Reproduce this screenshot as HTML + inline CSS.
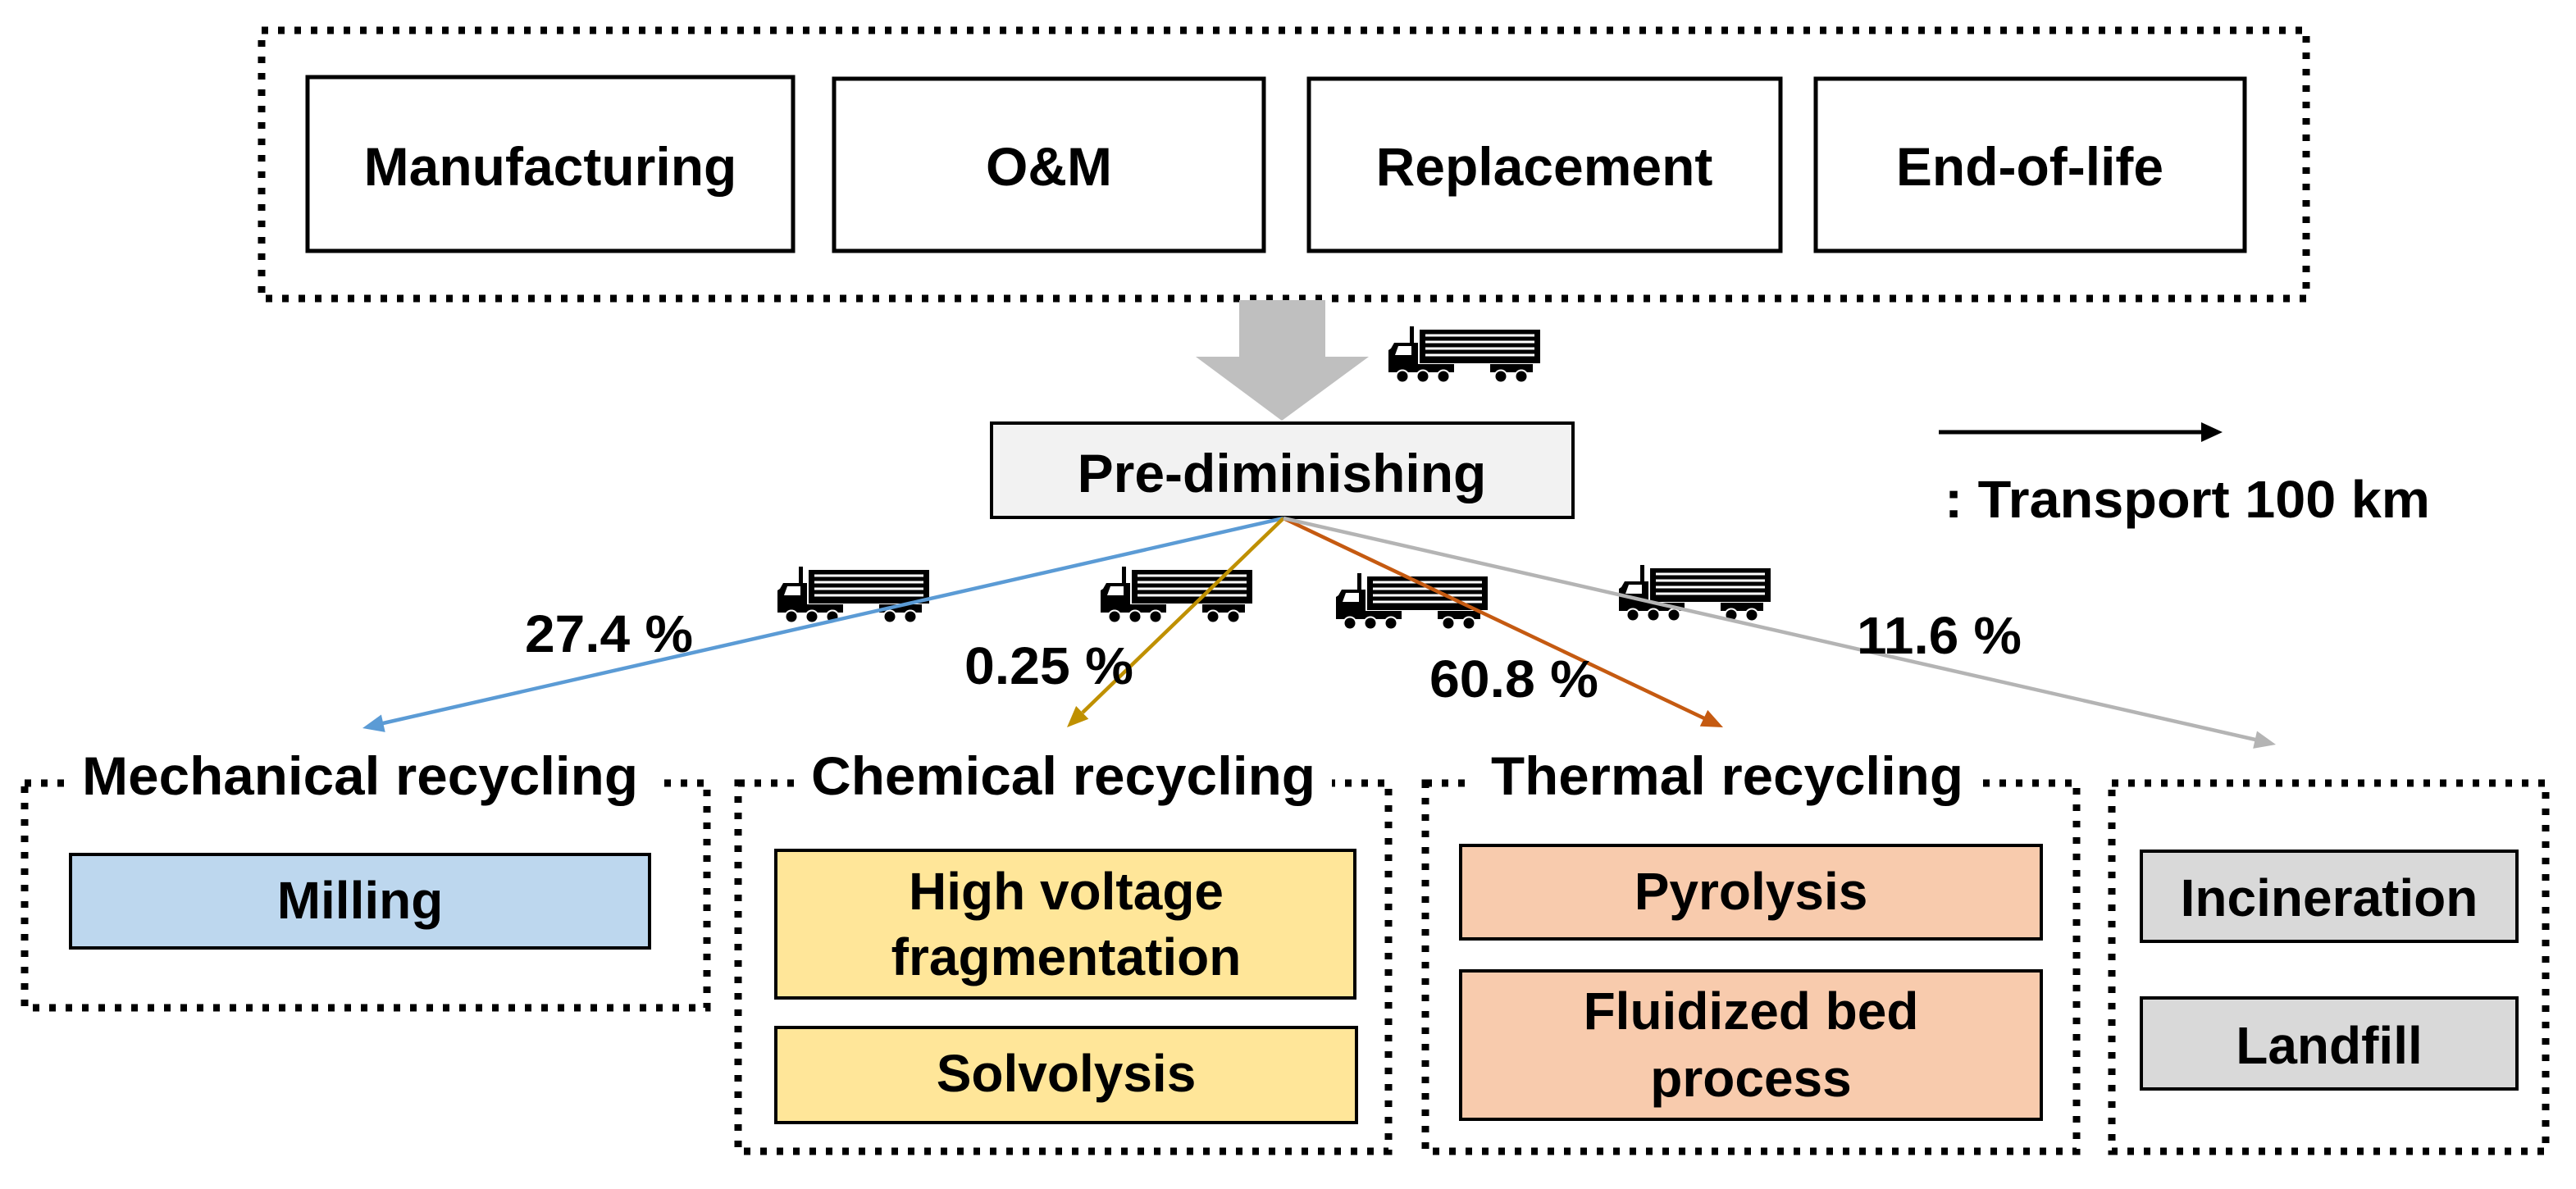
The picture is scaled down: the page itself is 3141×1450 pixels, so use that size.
<!DOCTYPE html>
<html><head><meta charset="utf-8"><style>html,body{margin:0;padding:0;background:#fff}svg{display:block}</style></head>
<body>
<svg width="3141" height="1450" viewBox="0 0 3141 1450" xmlns="http://www.w3.org/2000/svg" font-family="'Liberation Sans', Arial, sans-serif" font-weight="bold">
<defs>
<g id="truck">
  <rect x="38" y="4" width="147" height="41" fill="#000"/>
  <g stroke="#fff" stroke-width="3">
    <line x1="45" y1="11" x2="178" y2="11"/><line x1="45" y1="19" x2="178" y2="19"/>
    <line x1="45" y1="27" x2="178" y2="27"/><line x1="45" y1="35" x2="178" y2="35"/>
  </g>
  <rect x="26" y="0" width="5" height="22" fill="#000"/>
  <polygon points="0,49 0,29 3,27 7,20 36,20 36,49" fill="#000"/>
  <polygon points="12,24 28,24 28,35 8,35" fill="#fff"/>
  <rect x="0" y="46" width="80" height="10" fill="#000"/>
  <rect x="124" y="46" width="52" height="10" fill="#000"/>
  <g fill="#000" stroke="#fff" stroke-width="2">
    <circle cx="17" cy="61" r="7.5"/><circle cx="42" cy="61" r="7.5"/><circle cx="67" cy="61" r="7.5"/>
    <circle cx="137" cy="61" r="7.5"/><circle cx="162" cy="61" r="7.5"/>
  </g>
</g>
</defs>

<!-- top dotted group -->
<rect x="319" y="37" width="2493" height="327" fill="none" stroke="#000" stroke-width="9" stroke-dasharray="8 12"/>
<g fill="#fff" stroke="#000" stroke-width="5">
  <rect x="375" y="94" width="592" height="212"/>
  <rect x="1017" y="96" width="524" height="210"/>
  <rect x="1596" y="96" width="575" height="210"/>
  <rect x="2214" y="96" width="523" height="210"/>
</g>
<g font-size="66" text-anchor="middle" fill="#000">
  <text x="671" y="226">Manufacturing</text>
  <text x="1279" y="226">O&amp;M</text>
  <text x="1883" y="226">Replacement</text>
  <text x="2475" y="226">End-of-life</text>
</g>

<!-- big gray arrow -->
<polygon points="1511,366 1616,366 1616,435 1669,435 1563,513 1458,435 1511,435" fill="#bfbfbf"/>
<use href="#truck" x="1693" y="398"/>

<!-- Pre-diminishing -->
<rect x="1209" y="516" width="709" height="115" fill="#f2f2f2" stroke="#000" stroke-width="4"/>
<text x="1563" y="600" font-size="66" text-anchor="middle">Pre-diminishing</text>

<!-- legend -->
<line x1="2364" y1="527" x2="2688" y2="527" stroke="#000" stroke-width="5"/>
<polygon points="2710,527 2684,515 2684,539" fill="#000"/>
<text x="2371" y="631" font-size="64" textLength="592" lengthAdjust="spacingAndGlyphs">: Transport 100 km</text>

<!-- trucks -->
<use href="#truck" x="948" y="691"/>
<use href="#truck" x="1342" y="691"/>
<use href="#truck" x="1629" y="699"/>
<use href="#truck" x="1974" y="689"/>

<!-- connectors -->
<g stroke-width="4.5" fill="none">
  <line x1="1565" y1="632" x2="467" y2="882" stroke="#5b9bd5"/>
  <line x1="1565" y1="632" x2="1320" y2="869" stroke="#bf9000"/>
  <line x1="1565" y1="632" x2="2078" y2="876" stroke="#c55a11"/>
  <line x1="1565" y1="632" x2="2750" y2="902" stroke="#b4b4b4"/>
</g>
<polygon points="442,888 464.9,871.5 469.7,892.9" fill="#5b9bd5"/>
<polygon points="1301,887 1312.1,861 1327.3,876.8" fill="#bf9000"/>
<polygon points="2101,887 2072.8,885.7 2082.2,865.9" fill="#c55a11"/>
<polygon points="2775,908 2747.2,912.9 2752,891.5" fill="#b4b4b4"/>

<!-- percentages -->
<g font-size="64">
  <text x="640" y="795" textLength="205" lengthAdjust="spacingAndGlyphs">27.4 %</text>
  <text x="1176" y="834" textLength="206" lengthAdjust="spacingAndGlyphs">0.25 %</text>
  <text x="1743" y="850" textLength="206" lengthAdjust="spacingAndGlyphs">60.8 %</text>
  <text x="2264" y="797" textLength="201" lengthAdjust="spacingAndGlyphs">11.6 %</text>
</g>

<!-- bottom dotted groups -->
<g fill="none" stroke="#000" stroke-width="9" stroke-dasharray="8 12">
  <rect x="30" y="955" width="832" height="274"/>
  <rect x="900" y="955" width="793" height="449"/>
  <rect x="1738" y="955" width="794" height="449"/>
  <rect x="2575" y="955" width="529" height="449"/>
</g>
<g fill="#fff">
  <rect x="80" y="900" width="718" height="75"/>
  <rect x="969" y="900" width="655" height="75"/>
  <rect x="1798" y="900" width="616" height="75"/>
</g>
<g font-size="66">
  <text x="100" y="969" textLength="678" lengthAdjust="spacingAndGlyphs">Mechanical recycling</text>
  <text x="989" y="969" textLength="615" lengthAdjust="spacingAndGlyphs">Chemical recycling</text>
  <text x="1818" y="969" textLength="576" lengthAdjust="spacingAndGlyphs">Thermal recycling</text>
</g>

<!-- inner boxes -->
<g stroke="#000" stroke-width="4">
  <rect x="86" y="1042" width="706" height="114" fill="#bdd7ee"/>
  <rect x="946" y="1037" width="706" height="180" fill="#ffe699"/>
  <rect x="946" y="1253" width="708" height="116" fill="#ffe699"/>
  <rect x="1781" y="1031" width="708" height="114" fill="#f8cbad"/>
  <rect x="1781" y="1184" width="708" height="181" fill="#f8cbad"/>
  <rect x="2611" y="1038" width="458" height="110" fill="#d9d9d9"/>
  <rect x="2611" y="1217" width="458" height="111" fill="#d9d9d9"/>
</g>
<g font-size="64" text-anchor="middle">
  <text x="439" y="1120">Milling</text>
  <text x="1300" y="1109">High voltage</text>
  <text x="1300" y="1189">fragmentation</text>
  <text x="1300" y="1331">Solvolysis</text>
  <text x="2135" y="1109">Pyrolysis</text>
  <text x="2135" y="1255">Fluidized bed</text>
  <text x="2135" y="1337">process</text>
  <text x="2840" y="1117">Incineration</text>
  <text x="2840" y="1297">Landfill</text>
</g>
</svg>
</body></html>
